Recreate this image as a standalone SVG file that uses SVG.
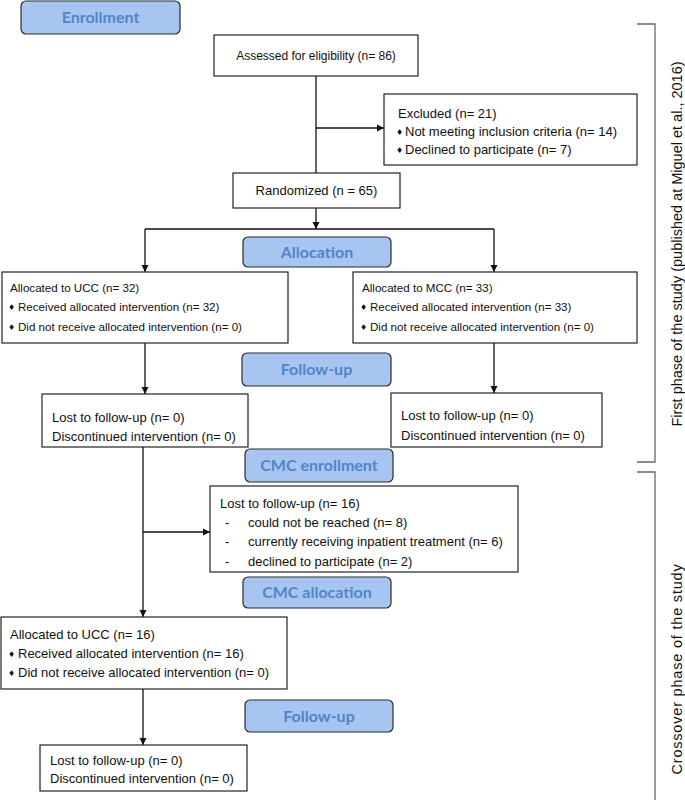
<svg xmlns="http://www.w3.org/2000/svg" width="685" height="800" viewBox="0 0 685 800">
<defs>
<marker id="ah" markerWidth="8" markerHeight="8" refX="7" refY="4" orient="auto" markerUnits="userSpaceOnUse">
<path d="M0,0.5 L7,4 L0,7.5 Z" fill="#111"/>
</marker>
<style>
.box{fill:#fff;stroke:#222;stroke-width:1.2}
.lab{fill:#a8c5f2;stroke:#2a2a2a;stroke-width:1.2}
.lt{font-family:Lato,"Open Sans",sans-serif;font-weight:700;font-size:16px;fill:#4f86c9;text-anchor:middle}
.t{font-family:"Liberation Sans",Arial,sans-serif;font-size:13px;fill:#111}
.tc{font-family:"Liberation Sans",Arial,sans-serif;font-size:13px;fill:#111;text-anchor:middle}
.s{font-size:12px}
.n{font-size:11.6px}
.b{font-family:"DejaVu Sans",sans-serif;font-size:8px;fill:#111}
.con{stroke:#111;stroke-width:1.3;fill:none}
.br{stroke:#666;stroke-width:1.3;fill:none}
.side{font-family:"Liberation Sans",Arial,sans-serif;font-size:14.5px;fill:#111;text-anchor:middle}
</style>
</defs>
<rect width="685" height="800" fill="#fff"/>

<g id="connectors">
<line class="con" x1="316" y1="76" x2="316" y2="173"/>
<line class="con" x1="316" y1="128" x2="384" y2="128" marker-end="url(#ah)"/>
<line class="con" x1="316" y1="208" x2="316" y2="229" marker-end="url(#ah)"/>
<line class="con" x1="145" y1="229" x2="494" y2="229"/>
<line class="con" x1="145" y1="229" x2="145" y2="272" marker-end="url(#ah)"/>
<line class="con" x1="494" y1="229" x2="494" y2="272" marker-end="url(#ah)"/>
<line class="con" x1="145" y1="343" x2="145" y2="394" marker-end="url(#ah)"/>
<line class="con" x1="494" y1="343" x2="494" y2="393" marker-end="url(#ah)"/>
<line class="con" x1="143" y1="447" x2="143" y2="617" marker-end="url(#ah)"/>
<line class="con" x1="143" y1="532" x2="210" y2="532" marker-end="url(#ah)"/>
<line class="con" x1="143" y1="689" x2="143" y2="745" marker-end="url(#ah)"/>
</g>

<g id="enrollment"><rect class="lab" x="21" y="1" width="159" height="33" rx="5"/><text class="lt" x="100.5" y="23">Enrollment</text></g>
<g id="allocation"><rect class="lab" x="243" y="237" width="148" height="30" rx="5"/><text class="lt" x="317" y="258">Allocation</text></g>
<g id="followup1"><rect class="lab" x="242" y="353" width="149" height="33" rx="5"/><text class="lt" x="316.5" y="375">Follow-up</text></g>
<g id="cmc-enrollment"><rect class="lab" x="245" y="449" width="148" height="33" rx="5"/><text class="lt" x="319" y="471">CMC enrollment</text></g>
<g id="cmc-allocation"><rect class="lab" x="243" y="577" width="148" height="31" rx="5"/><text class="lt" x="317" y="598">CMC allocation</text></g>
<g id="followup2"><rect class="lab" x="245" y="700" width="148" height="32" rx="5"/><text class="lt" x="319" y="722">Follow-up</text></g>

<g id="assessed"><rect class="box" x="214" y="35" width="204" height="41"/><text class="tc s" x="316" y="60">Assessed for eligibility (n= 86)</text></g>
<g id="excluded"><rect class="box" x="384" y="94" width="253" height="71"/>
<text class="t" x="398" y="118">Excluded (n= 21)</text>
<text class="b" x="396" y="135">♦</text><text class="t" x="405" y="136">Not meeting inclusion criteria (n= 14)</text>
<text class="b" x="396" y="153">♦</text><text class="t" x="405" y="154">Declined to participate (n= 7)</text></g>
<g id="randomized"><rect class="box" x="233" y="173" width="167" height="35"/><text class="tc" x="316.5" y="195">Randomized (n = 65)</text></g>
<g id="ucc"><rect class="box" x="2" y="272" width="286" height="71"/>
<text class="t n" x="10" y="292">Allocated to UCC (n= 32)</text>
<text class="b" x="8" y="310">♦</text><text class="t n" x="18" y="311">Received allocated intervention (n= 32)</text>
<text class="b" x="8" y="330">♦</text><text class="t n" x="18" y="331">Did not receive allocated intervention (n= 0)</text></g>
<g id="mcc"><rect class="box" x="353" y="272" width="284" height="71"/>
<text class="t n" x="362" y="292">Allocated to MCC (n= 33)</text>
<text class="b" x="360" y="310">♦</text><text class="t n" x="370" y="311">Received allocated intervention (n= 33)</text>
<text class="b" x="360" y="330">♦</text><text class="t n" x="370" y="331">Did not receive allocated intervention (n= 0)</text></g>
<g id="lost-ucc"><rect class="box" x="42" y="394" width="206" height="53"/>
<text class="t" x="52" y="422">Lost to follow-up (n= 0)</text>
<text class="t" x="52" y="441">Discontinued intervention (n= 0)</text></g>
<g id="lost-mcc"><rect class="box" x="391" y="393" width="211" height="54"/>
<text class="t" x="401" y="420">Lost to follow-up (n= 0)</text>
<text class="t" x="401" y="440">Discontinued intervention (n= 0)</text></g>
<g id="lost16"><rect class="box" x="210" y="486" width="308" height="86"/>
<text class="t" x="220" y="508">Lost to follow-up (n= 16)</text>
<text class="t" x="225" y="527">-</text><text class="t" x="248" y="527">could not be reached (n= 8)</text>
<text class="t" x="225" y="546">-</text><text class="t" x="248" y="546">currently receiving inpatient treatment (n= 6)</text>
<text class="t" x="225" y="566">-</text><text class="t" x="248" y="566">declined to participate (n= 2)</text></g>
<g id="ucc2"><rect class="box" x="1" y="617" width="286" height="72"/>
<text class="t" x="10" y="639">Allocated to UCC (n= 16)</text>
<text class="b" x="8" y="657">♦</text><text class="t" x="18" y="658">Received allocated intervention (n= 16)</text>
<text class="b" x="8" y="676">♦</text><text class="t" x="18" y="677">Did not receive allocated intervention (n= 0)</text></g>
<g id="lost3"><rect class="box" x="40" y="745" width="207" height="46"/>
<text class="t" x="50" y="765">Lost to follow-up (n= 0)</text>
<text class="t" x="50" y="783">Discontinued intervention (n= 0)</text></g>

<g id="brackets">
<polyline class="br" points="637,24 655,24 655,462 637,462"/>
<polyline class="br" points="637,472 655,472 655,800"/>
<text class="side" transform="translate(682,244) rotate(-90)">First phase of the study (published at Miguel et al., 2016)</text>
<text class="side" transform="translate(682,669) rotate(-90)" letter-spacing="0.8">Crossover phase of the study</text>
</g>
</svg>
